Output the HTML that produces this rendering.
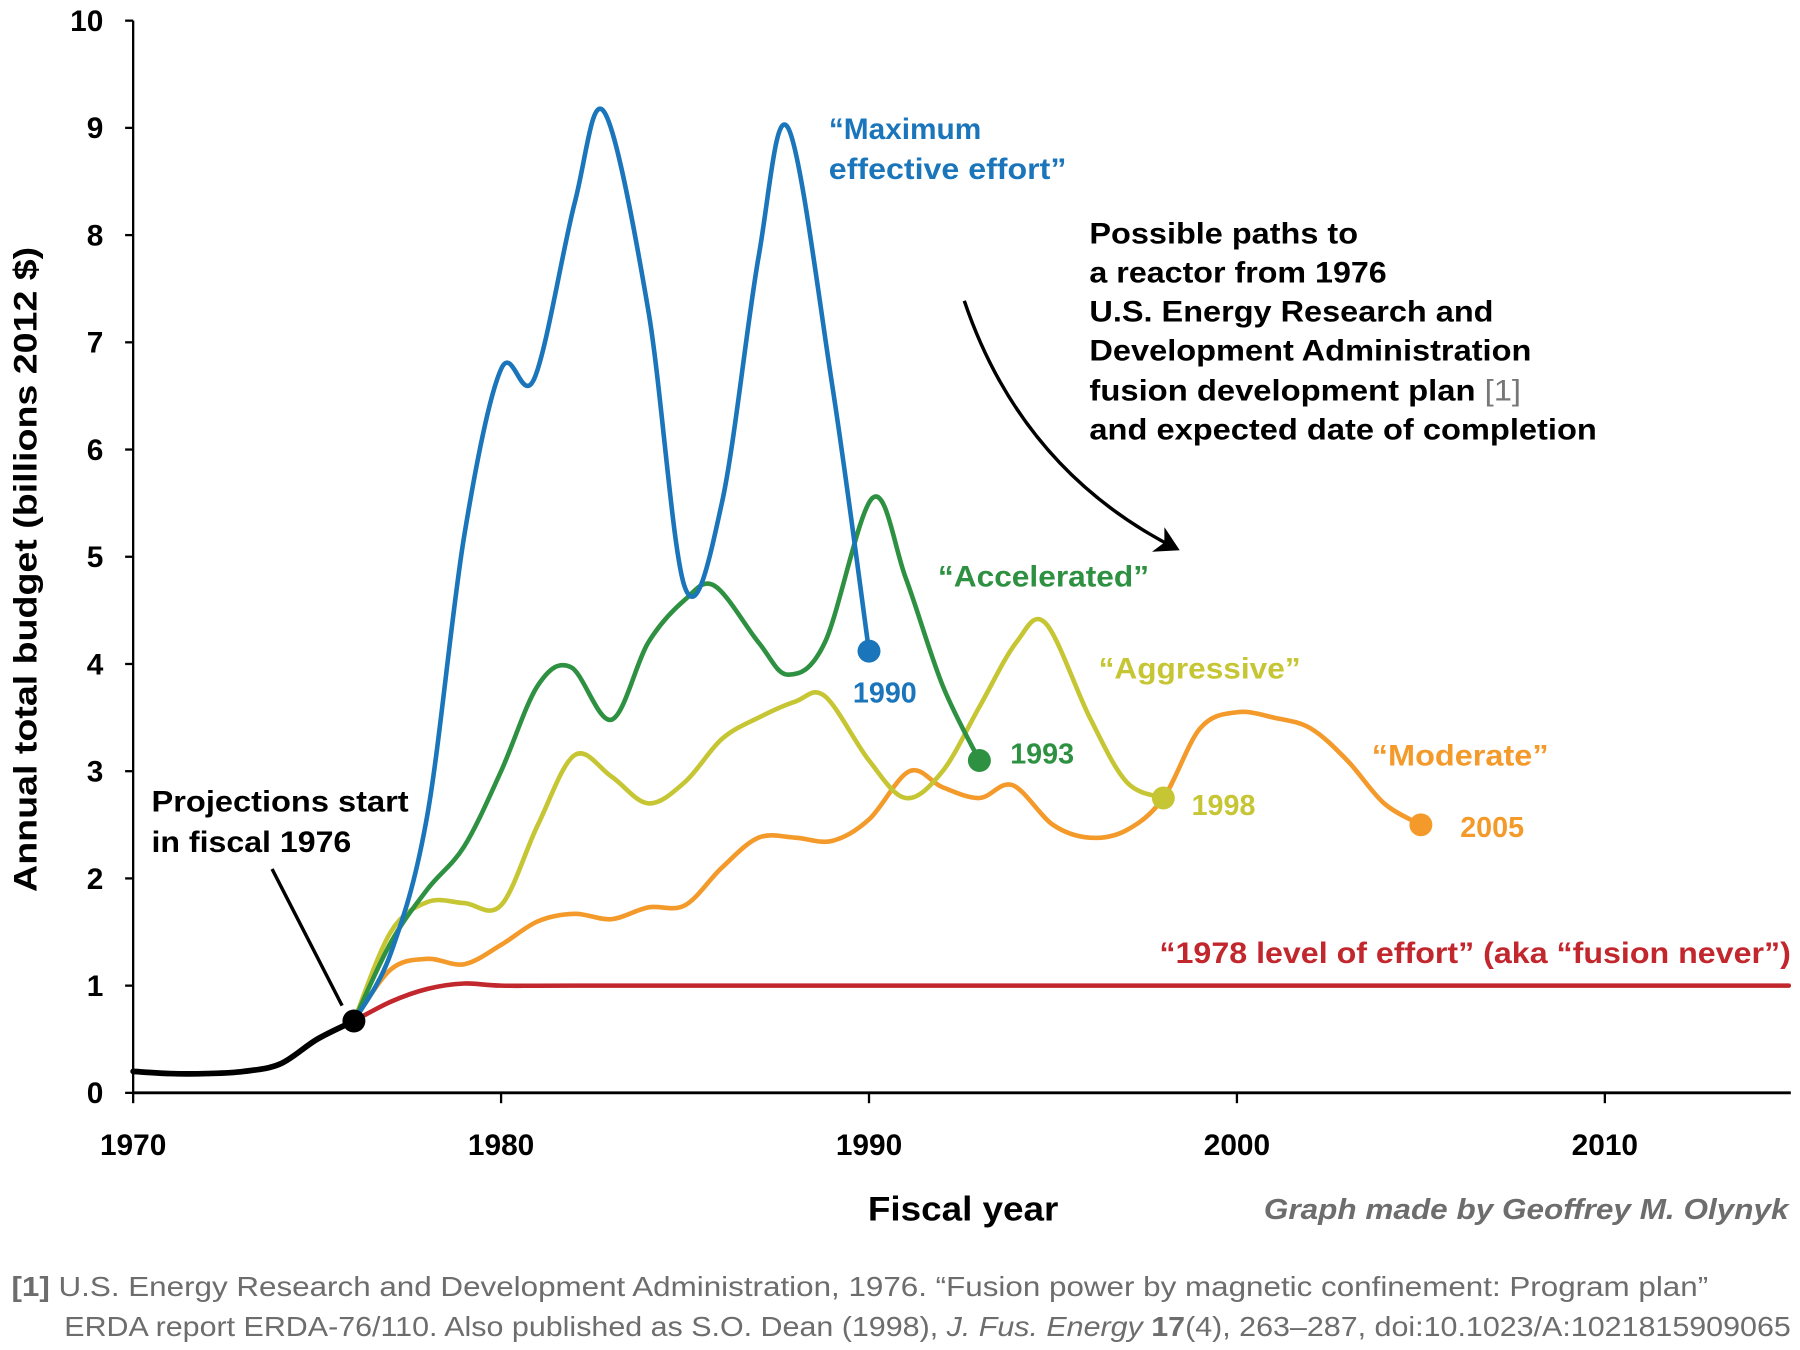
<!DOCTYPE html>
<html><head><meta charset="utf-8"><style>
html,body{margin:0;padding:0;background:#fff;}
svg{display:block;}
text{font-family:"Liberation Sans",Arial,sans-serif;}
.b{font-weight:bold;}
</style></head><body>
<svg id="chart" width="1800" height="1350" viewBox="0 0 1568 1176" preserveAspectRatio="none" xmlns="http://www.w3.org/2000/svg">
<defs><marker id="ah" markerWidth="8" markerHeight="8" refX="6" refY="4" orient="auto" markerUnits="strokeWidth"><path d="M0,0 L7,4 L0,8 L2,4 Z" fill="#000"/></marker></defs>
<g id="axes"></g>
<g id="series"></g>
<text class="b" font-size="28" text-anchor="middle" textLength="562" lengthAdjust="spacingAndGlyphs" transform="translate(32,496) rotate(-90)">Annual total budget (billions 2012 $)</text>
<text class="b" font-size="30" x="756" y="1063" textLength="166" lengthAdjust="spacingAndGlyphs">Fiscal year</text>
<text class="b" font-size="25" font-style="italic" fill="#6d6d6d" x="1101" y="1062" textLength="457" lengthAdjust="spacingAndGlyphs">Graph made by Geoffrey M. Olynyk</text>
<text font-size="24" fill="#6d6d6d" x="10" y="1129" textLength="1478" lengthAdjust="spacingAndGlyphs"><tspan font-weight="bold">[1]</tspan> U.S. Energy Research and Development Administration, 1976. “Fusion power by magnetic confinement: Program plan”</text>
<text font-size="24" fill="#6d6d6d" x="56" y="1164" textLength="1504" lengthAdjust="spacingAndGlyphs">ERDA report ERDA-76/110. Also published as S.O. Dean (1998), <tspan font-style="italic">J. Fus. Energy</tspan> <tspan font-weight="bold">17</tspan>(4), 263–287, doi:10.1023/A:1021815909065</text>
<text class="b" font-size="26" fill="#1a75bb"><tspan x="722" y="121">“Maximum</tspan><tspan x="722" y="156" textLength="207" lengthAdjust="spacingAndGlyphs">effective effort”</tspan></text>
<g font-size="26" font-weight="bold">
<text x="949" y="212" textLength="234" lengthAdjust="spacingAndGlyphs">Possible paths to</text>
<text x="949" y="246" textLength="259" lengthAdjust="spacingAndGlyphs">a reactor from 1976</text>
<text x="949" y="280" textLength="352" lengthAdjust="spacingAndGlyphs">U.S. Energy Research and</text>
<text x="949" y="314" textLength="385" lengthAdjust="spacingAndGlyphs">Development Administration</text>
<text x="949" y="349" textLength="376" lengthAdjust="spacingAndGlyphs">fusion development plan <tspan fill="#777" font-weight="normal">[1]</tspan></text>
<text x="949" y="383" textLength="442" lengthAdjust="spacingAndGlyphs">and expected date of completion</text>
</g>
<path d="M840,262 Q890,410 1025,478" fill="none" stroke="#000" stroke-width="3" marker-end="url(#ah)"/>
<text class="b" font-size="26" fill="#2e9142" x="817" y="511" textLength="184" lengthAdjust="spacingAndGlyphs">“Accelerated”</text>
<text class="b" font-size="26" fill="#c6c634" x="957" y="591" textLength="176" lengthAdjust="spacingAndGlyphs">“Aggressive”</text>
<text class="b" font-size="26" fill="#f39a2a" x="1195" y="667" textLength="154" lengthAdjust="spacingAndGlyphs">“Moderate”</text>
<text class="b" font-size="26" fill="#c1272d" x="1010" y="839" textLength="550" lengthAdjust="spacingAndGlyphs">“1978 level of effort” (aka “fusion never”)</text>
<text class="b" font-size="26"><tspan x="132" y="707" textLength="224" lengthAdjust="spacingAndGlyphs">Projections start</tspan><tspan x="132" y="742" textLength="174" lengthAdjust="spacingAndGlyphs">in fiscal 1976</tspan></text>
<line x1="237" y1="757" x2="298" y2="876" stroke="#000" stroke-width="3"/>
<text class="b" font-size="25" fill="#1a75bb" x="743" y="612">1990</text>
<text class="b" font-size="25" fill="#2e9142" x="880" y="665">1993</text>
<text class="b" font-size="25" fill="#c6c634" x="1038" y="710">1998</text>
<text class="b" font-size="25" fill="#f39a2a" x="1272" y="729">2005</text>
</svg>
<script>
const yTicks=[0,1,2,3,4,5,6,7,8,9,10];
const xTicks=[1970,1980,1990,2000,2010];
const histYears=[1970,1971,1972,1973,1974,1975,1976];
const histVals=[0.2,0.18,0.18,0.2,0.27,0.5,0.67];
const neverYears=[1976,1977,1978,1979,1980,1982,1990,2000,2015];
const neverVals=[0.67,0.85,0.97,1.02,1.0,1.0,1.0,1.0,1.0];
const maxYears=[1976,1977,1978,1979,1980,1980.9,1982,1982.8,1984,1985,1986,1987,1987.8,1989,1990];
const maxVals=[0.67,1.3,2.6,5.2,6.75,6.66,8.3,9.15,7.3,4.71,5.5,7.8,9.0,6.6,4.12];
const accYears=[1976,1977,1978,1979,1980,1981,1981.9,1983,1984,1985,1985.8,1987,1987.8,1988.8,1990.1,1991,1992,1993];
const accVals=[0.67,1.4,1.9,2.3,3.0,3.8,3.97,3.48,4.2,4.6,4.73,4.2,3.9,4.2,5.55,4.8,3.8,3.1];
const aggYears=[1976,1977,1978,1979,1980,1981,1982,1983,1984,1985,1986,1987,1988,1988.8,1990,1991,1992,1993,1994,1994.8,1996,1997,1998];
const aggVals=[0.67,1.5,1.78,1.77,1.75,2.5,3.15,2.95,2.7,2.9,3.3,3.5,3.65,3.7,3.1,2.75,3.0,3.6,4.2,4.38,3.5,2.9,2.75];
const modYears=[1976,1977,1978,1979,1980,1981,1982,1983,1984,1985,1986,1987,1988,1989,1990,1991.1,1992,1993,1993.9,1995,1996,1997,1998,1999,2000,2001,2002,2003,2004,2005];
const modVals=[0.67,1.15,1.25,1.2,1.38,1.6,1.67,1.62,1.73,1.75,2.1,2.38,2.38,2.35,2.55,3.0,2.85,2.75,2.87,2.5,2.38,2.45,2.75,3.4,3.55,3.5,3.4,3.1,2.7,2.5];

const NS='http://www.w3.org/2000/svg';
function xs(y){return 116+(y-1970)*32.05;}
function ys(v){return 952-v*93.4;}
function mk(tag,attrs,parent){const e=document.createElementNS(NS,tag);for(const k in attrs)e.setAttribute(k,attrs[k]);parent.appendChild(e);return e;}
const axes=document.getElementById('axes');
const yl=mk('line',{x1:116,y1:ys(10),x2:116,y2:ys(0),stroke:'#000','stroke-width':2},axes);


const xl=mk('line',{x1:116,y1:ys(0),x2:1560,y2:ys(0),stroke:'#000','stroke-width':2.5},axes);


yTicks.forEach(t=>{
  const l=mk('line',{x1:109,y1:ys(t),x2:116,y2:ys(t),stroke:'#000','stroke-width':2},axes);
  
  
  const tx=mk('text',{x:90,y:ys(t)+9,'text-anchor':'end','font-size':26,'font-weight':'bold'},axes);
  tx.textContent=t;
  
  
});
xTicks.forEach(t=>{
  const l=mk('line',{x1:xs(t),y1:ys(0),x2:xs(t),y2:ys(0)+9,stroke:'#000','stroke-width':2},axes);
  
  
  const tx=mk('text',{x:xs(t),y:1006,'text-anchor':'middle','font-size':26,'font-weight':'bold'},axes);
  tx.textContent=t;
  
  
});
function smooth(years,vals){
  const p=years.map((y,i)=>[xs(y),ys(vals[i])]);
  let d='M'+p[0][0]+','+p[0][1];
  for(let i=0;i<p.length-1;i++){
    const p0=p[Math.max(0,i-1)],p1=p[i],p2=p[i+1],p3=p[Math.min(p.length-1,i+2)];
    const c1=[p1[0]+(p2[0]-p0[0])/6,p1[1]+(p2[1]-p0[1])/6];
    const c2=[p2[0]-(p3[0]-p1[0])/6,p2[1]-(p3[1]-p1[1])/6];
    d+=' C'+c1[0]+','+c1[1]+' '+c2[0]+','+c2[1]+' '+p2[0]+','+p2[1];
  }
  return d;
}
const sg=document.getElementById('series');
function series(name,years,vals,color,w,dot){
  const p=mk('path',{d:smooth(years,vals),fill:'none',stroke:color,'stroke-width':w,'stroke-linejoin':'round','stroke-linecap':'round'},sg);
  
  
  if(dot){
    const n=years.length-1;
    const c=mk('circle',{cx:xs(years[n]),cy:ys(vals[n]),r:10,fill:color},sg);
    
    
  }
}
series('fusion-never',neverYears,neverVals,'#c1272d',4,false);
series('moderate',modYears,modVals,'#f39a2a',4,true);
series('aggressive',aggYears,aggVals,'#c6c634',4,true);
series('accelerated',accYears,accVals,'#2e9142',4,true);
series('maximum-effort',maxYears,maxVals,'#1a75bb',4,true);
series('historical',histYears,histVals,'#000',5,true);
</script>
</body></html>
